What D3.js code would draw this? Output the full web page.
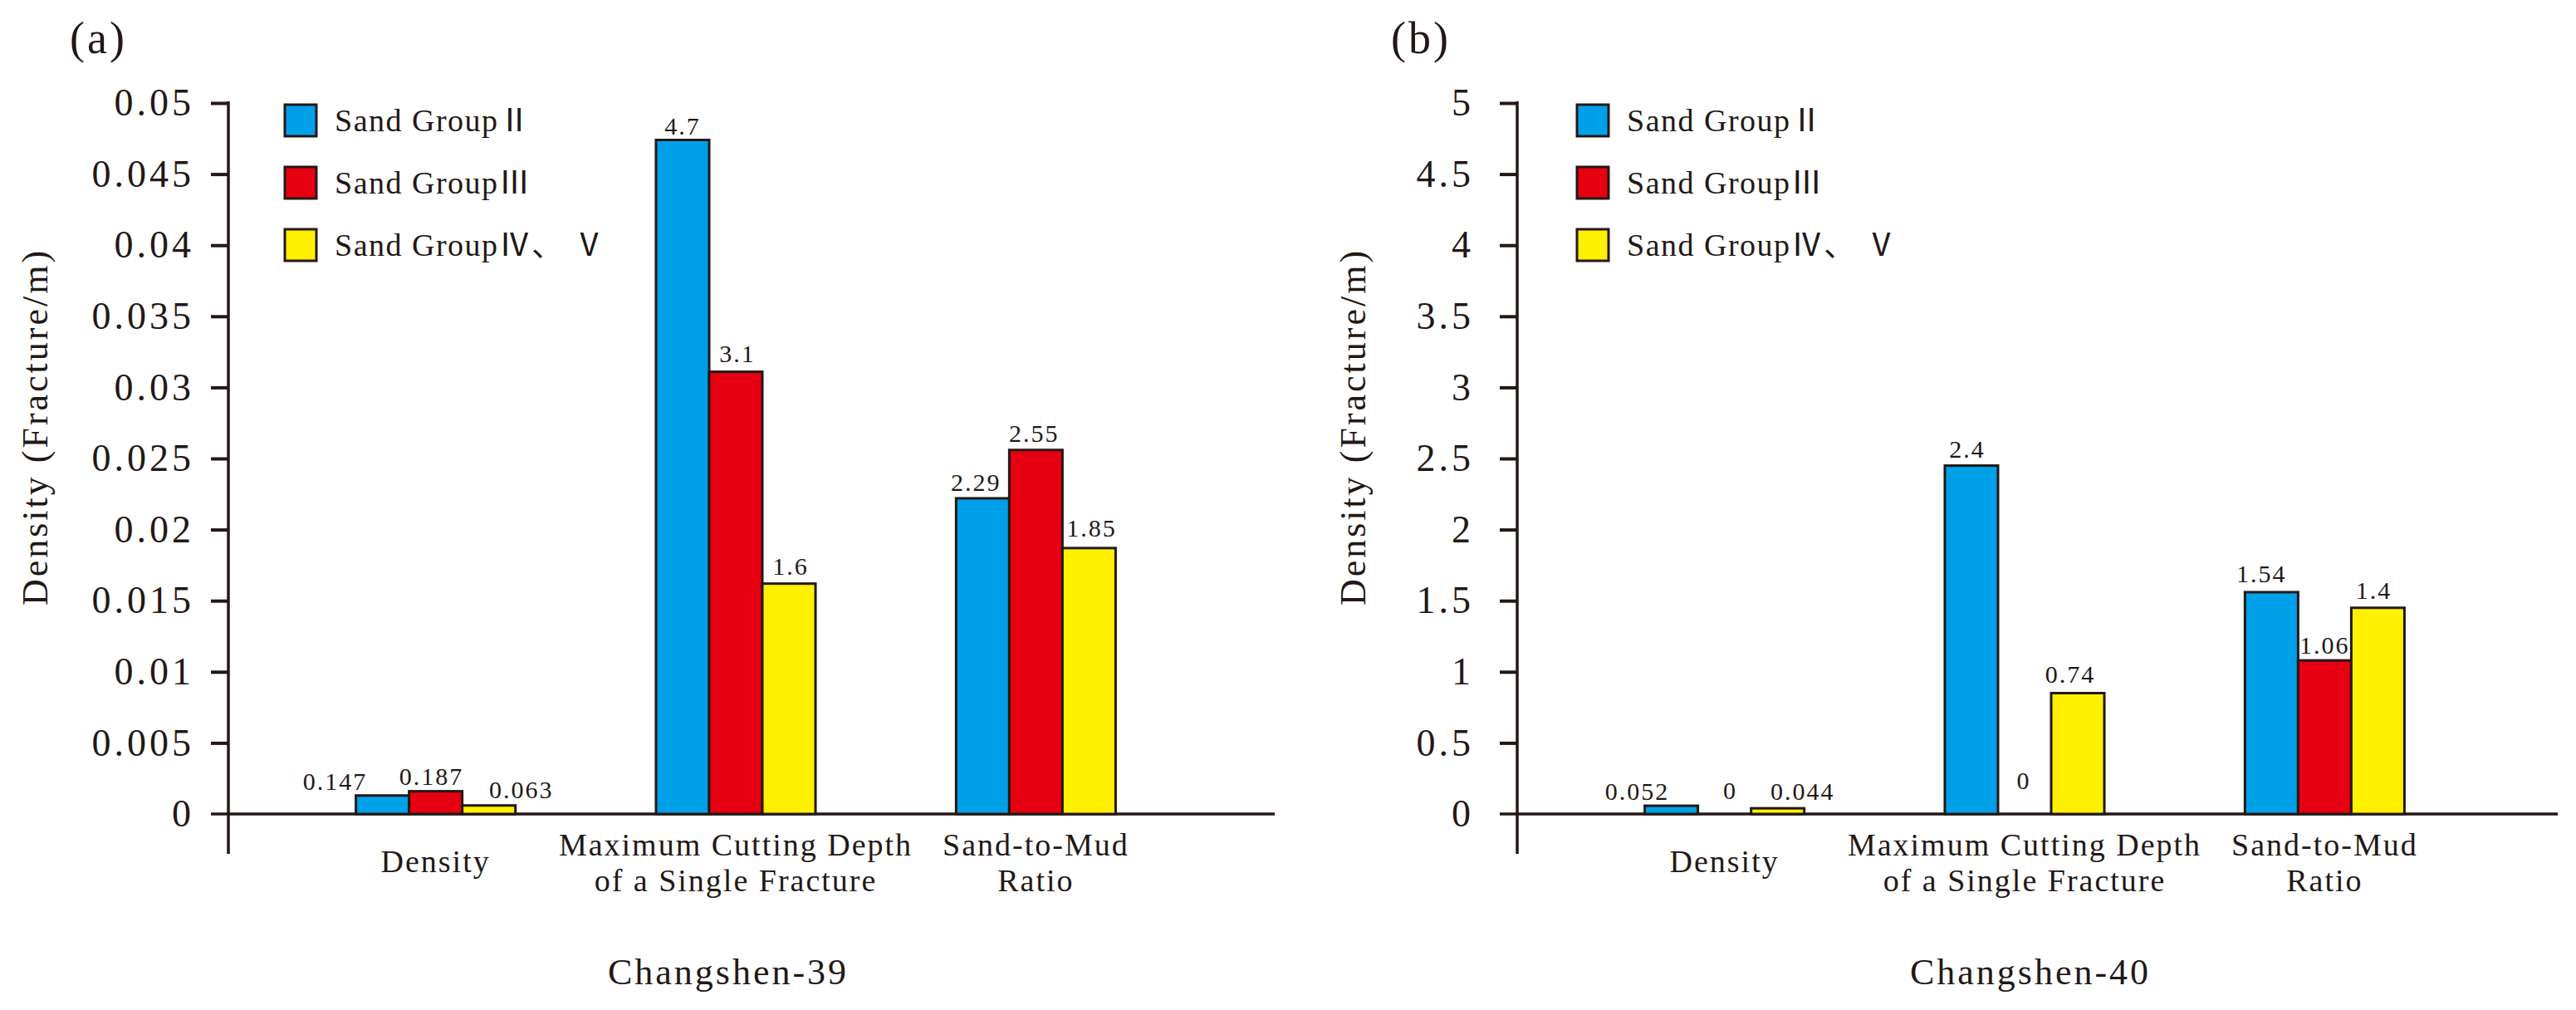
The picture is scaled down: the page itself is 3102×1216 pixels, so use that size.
<!DOCTYPE html>
<html lang="en">
  <head>
    <meta charset="UTF-8" />
    <title>Changshen-39 / Changshen-40 fracture parameters</title>
    <script src="https://d3js.org/d3.v7.min.js"></script>
    <style>
      body { margin: 0; background: #fff; }
      svg { display: block; }
      text { font-family: 'Liberation Serif', 'Noto Sans CJK SC', serif; fill: #231815; }
    </style>
  </head>
  <body>
    <div id="chart"></div>

    <script>
      // categories and series
      const categories = ['Density', 'Maximum Cutting Depth', 'Sand-to-Mud Ratio'];
      const categoryLines = [
        ['Density'],
        ['Maximum Cutting Depth', 'of a Single Fracture'],
        ['Sand-to-Mud', 'Ratio'],
      ];
      const series = ['Sand Group Ⅱ', 'Sand Group Ⅲ', 'Sand Group Ⅳ、 Ⅴ'];
      const legendText = ['Sand GroupⅡ', 'Sand GroupⅢ', 'Sand GroupⅣ、 Ⅴ'];
      const colors = ['#00a0e9', '#e60012', '#fff100'];

      // Changshen-39: bar heights as drawn on the axis, and printed labels
      const barsA = [
        [0.0013, 0.0016, 0.0006],
        [0.0474, 0.0311, 0.0162],
        [0.0222, 0.0256, 0.0187],
      ];
      const labelsA = [
        ['0.147', '0.187', '0.063'],
        ['4.7', '3.1', '1.6'],
        ['2.29', '2.55', '1.85'],
      ];
      const ticksA = [0, 0.005, 0.01, 0.015, 0.02, 0.025, 0.03, 0.035, 0.04, 0.045, 0.05];

      // Changshen-40
      const barsB = [
        [0.058, 0, 0.04],
        [2.45, 0, 0.85],
        [1.56, 1.08, 1.45],
      ];
      const labelsB = [
        ['0.052', '0', '0.044'],
        ['2.4', '0', '0.74'],
        ['1.54', '1.06', '1.4'],
      ];
      const ticksB = [0, 0.5, 1, 1.5, 2, 2.5, 3, 3.5, 4, 4.5, 5];

      // label nudges [dx, gap above bar]
      const nudgeA = [
        [[-57, 7], [-5, 8], [39, 9]],
        [[0, 7], [2, 12], [2, 11]],
        [[-8, 9], [-2, 10], [3, 14]],
      ];
      const nudgeB = [
        [[-41, 7], [7, 18], [30, 10]],
        [[-5, 10], [-1, 30], [-9, 12]],
        [[-12, 12], [0, 8], [-5, 11]],
      ];

      const width = 3102;
      const height = 1216;
      const topY = 124;
      const zeroY = 980;

      const svg = d3
        .select('#chart')
        .append('svg')
        .attr('width', width)
        .attr('height', height);

      const panels = [
        {
          letter: '(a)', letterX: 84, axisX: 275, axisLen: 1260, max: 0.05,
          bars: barsA, labels: labelsA, ticks: ticksA, nudge: nudgeA,
          tickPad: 20, titleX: -218, wellX: 602, well: 'Changshen-39', legendX: 68,
        },
        {
          letter: '(b)', letterX: 1675, axisX: 1827, axisLen: 1253, max: 5,
          bars: barsB, labels: labelsB, ticks: ticksB, nudge: nudgeB,
          tickPad: 31, titleX: -183, wellX: 618, well: 'Changshen-40', legendX: 72,
        },
      ];

      panels.forEach((p) => {
        svg
          .append('text')
          .attr('x', p.letterX)
          .attr('y', 64)
          .attr('font-size', 54)
          .attr('letter-spacing', 3)
          .text(p.letter);

        const g = svg.append('g').attr('transform', `translate(${p.axisX},0)`);

        const y = d3.scaleLinear().domain([0, p.max]).range([zeroY, topY]);

        const x0 = d3
          .scaleBand()
          .domain(categories)
          .range([0, 1222])
          .paddingInner(0.4685)
          .paddingOuter(0.425);

        const x1 = d3
          .scaleBand()
          .domain(series)
          .range([0, x0.bandwidth()]);

        // y axis
        const yAxis = d3
          .axisLeft(y)
          .tickValues(p.ticks)
          .tickFormat(d3.format('~g'))
          .tickSize(21)
          .tickPadding(p.tickPad);

        const ya = g.append('g').call(yAxis);
        ya.select('.domain').remove();
        ya.selectAll('.tick line').attr('stroke', '#231815').attr('stroke-width', 4);
        ya.selectAll('.tick text')
          .attr('font-family', "'Liberation Serif', serif")
          .attr('font-size', 46)
          .attr('letter-spacing', 4)
          .attr('fill', '#231815');
        ya.selectAll('.tick').filter((d) => d === 0).select('line').remove();

        g.append('line')
          .attr('x1', 0).attr('x2', 0)
          .attr('y1', topY - 2).attr('y2', zeroY + 48)
          .attr('stroke', '#231815').attr('stroke-width', 3.5);

        g.append('line')
          .attr('x1', -21).attr('x2', p.axisLen)
          .attr('y1', zeroY).attr('y2', zeroY)
          .attr('stroke', '#231815').attr('stroke-width', 3.5);

        g.append('text')
          .attr('transform', `translate(${p.titleX},514) rotate(-90)`)
          .attr('text-anchor', 'middle')
          .attr('font-size', 44)
          .attr('letter-spacing', 3)
          .text('Density (Fracture/m)');

        // bars
        const grp = g
          .selectAll('.grp')
          .data(categories)
          .enter()
          .append('g')
          .attr('class', 'grp')
          .attr('transform', (c) => `translate(${x0(c)},0)`);

        grp.each(function (c, ci) {
          const gg = d3.select(this);
          series.forEach((s, si) => {
            const v = p.bars[ci][si];
            if (v > 0) {
              gg.append('rect')
                .attr('x', x1(s))
                .attr('y', y(v))
                .attr('width', x1.bandwidth())
                .attr('height', zeroY - y(v))
                .attr('fill', colors[si])
                .attr('stroke', '#231815')
                .attr('stroke-width', 3);
            }
            const nd = p.nudge[ci][si];
            gg.append('text')
              .attr('x', x1(s) + x1.bandwidth() / 2 + nd[0])
              .attr('y', y(v) - nd[1])
              .attr('text-anchor', 'middle')
              .attr('font-size', 30)
              .attr('letter-spacing', 2)
              .text(p.labels[ci][si]);
          });

          const lines = categoryLines[ci];
          const ys = lines.length === 1 ? [1050] : [1030, 1073];
          lines.forEach((t, li) => {
            gg.append('text')
              .attr('x', x0.bandwidth() / 2)
              .attr('y', ys[li])
              .attr('text-anchor', 'middle')
              .attr('font-size', 38)
              .attr('letter-spacing', 2)
              .text(t);
          });
        });

        g.append('text')
          .attr('x', p.wellX)
          .attr('y', 1185)
          .attr('text-anchor', 'middle')
          .attr('font-size', 44)
          .attr('letter-spacing', 3)
          .text(p.well);

        // legend
        const leg = g
          .selectAll('.leg')
          .data(series)
          .enter()
          .append('g')
          .attr('class', 'leg')
          .attr('transform', (s, i) => `translate(${p.legendX},${126 + i * 75})`);

        leg.append('rect')
          .attr('width', 38)
          .attr('height', 38)
          .attr('fill', (s, i) => colors[i])
          .attr('stroke', '#231815')
          .attr('stroke-width', 3);

        leg.append('text')
          .attr('x', 60)
          .attr('y', 32)
          .attr('font-size', 38)
          .attr('letter-spacing', 1.5)
          .text((s, i) => legendText[i]);
      });
    </script>
  </body>
</html>
